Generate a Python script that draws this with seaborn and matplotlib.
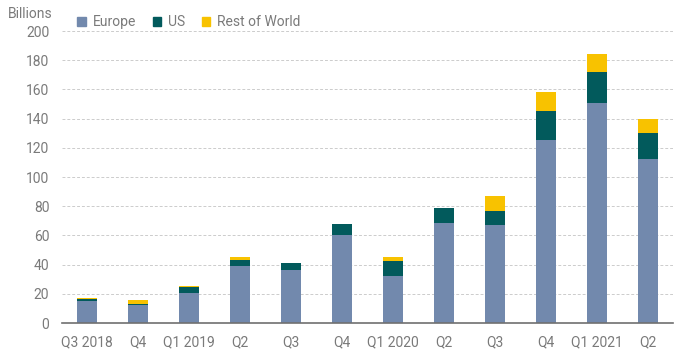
import pandas as pd
import numpy as np
import matplotlib.pyplot as plt
import seaborn as sns
from matplotlib.patches import Patch

quarters = ['Q3 2018', 'Q4', 'Q1 2019', 'Q2', 'Q3', 'Q4', 'Q1 2020', 'Q2', 'Q3', 'Q4', 'Q1 2021', 'Q2']
europe = [15.3, 12.3, 20.8, 39, 36.3, 60.3, 32.2, 68.3, 67.3, 125.1, 150.7, 112.5]
us = [1.0, 0.8, 3.6, 4.2, 4.6, 7.8, 10.3, 10.2, 9.6, 20.1, 21.0, 17.4]
rest = [0.8, 2.9, 0.9, 2.2, 0.0, 0.0, 2.9, 0.0, 10.3, 13.2, 12.5, 9.6]

c_eu = '#7289ad'
c_us = '#025a5c'
c_rw = '#f8c200'
txt = '#7a7a7a'

# unique x keys so repeated quarter names stay separate bars
df = pd.DataFrame({'key': [f'{i}' for i in range(len(quarters))],
                   'Europe': europe, 'US': us, 'Rest of World': rest})
df['eu_us'] = df['Europe'] + df['US']
df['total'] = df['eu_us'] + df['Rest of World']

sns.set_style('white')
plt.rcParams['font.family'] = ['Roboto', 'DejaVu Sans']

fig, ax = plt.subplots(figsize=(6.87, 3.57), dpi=100)
fig.subplots_adjust(left=0.090, right=0.98, bottom=0.095, top=0.913)

# stacked by overlaying cumulative totals
sns.barplot(data=df, x='key', y='total', color=c_rw, width=0.4, saturation=1, ax=ax, linewidth=0)
sns.barplot(data=df, x='key', y='eu_us', color=c_us, width=0.4, saturation=1, ax=ax, linewidth=0)
sns.barplot(data=df, x='key', y='Europe', color=c_eu, width=0.4, saturation=1, ax=ax, linewidth=0)

ax.set_ylim(0, 200)
ax.set_xlim(-0.5, len(quarters) - 0.5)
ax.set_yticks(range(0, 201, 20))
ax.set_xticks(range(len(quarters)))
ax.set_xticklabels(quarters)
ax.set_xlabel('')
ax.set_ylabel('')
ax.tick_params(axis='both', length=0, labelsize=10, colors=txt)
ax.tick_params(axis='x', pad=9)
ax.tick_params(axis='y', pad=9)
for y in range(20, 201, 20):
    ax.axhline(y, color='#cccccc', linestyle=(0, (3, 2)), linewidth=0.7, zorder=0)
for s in ['top', 'right', 'left']:
    ax.spines[s].set_visible(False)
ax.spines['bottom'].set_color('#707070')
ax.spines['bottom'].set_linewidth(1.2)

fig.text(0.012, 0.962, 'Billions', color=txt, fontsize=10, va='center')

handles = [Patch(color=c_eu, label='Europe'), Patch(color=c_us, label='US'),
           Patch(color=c_rw, label='Rest of World')]
leg = ax.legend(handles=handles, ncol=3, frameon=False, loc='center left',
                bbox_to_anchor=(0.005, 1.03), handlelength=0.6, handleheight=0.6,
                handletextpad=0.5, columnspacing=1.2, fontsize=10)
for t in leg.get_texts():
    t.set_color(txt)

plt.savefig('out.png', dpi=100)
